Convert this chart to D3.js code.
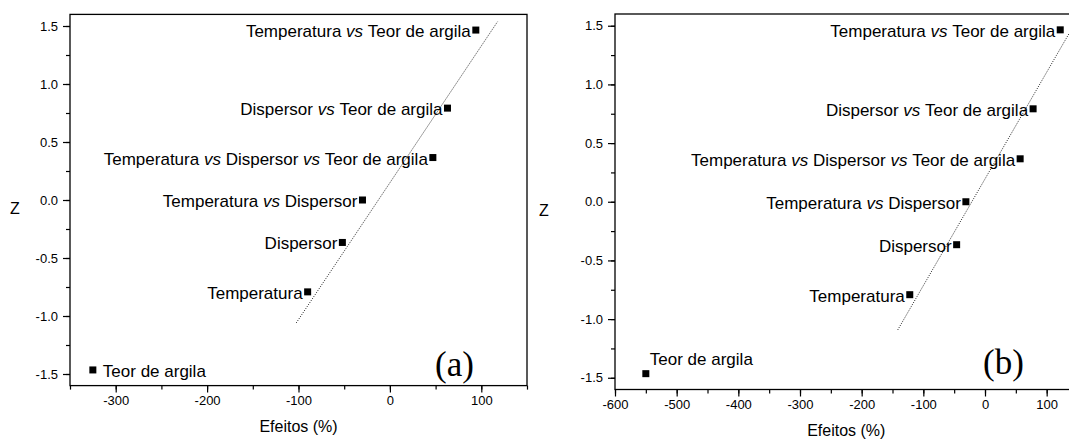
<!DOCTYPE html>
<html>
<head>
<meta charset="utf-8">
<script src="https://cdn.jsdelivr.net/npm/d3@7"></script>
<style>
  body { margin: 0; background: #fff; }
  svg { display: block; font-family: "Liberation Sans", Arial, sans-serif; }
</style>
</head>
<body>
<div id="chart"></div>
<script>
// effects, in order of their normal score
let efeitos = ["Teor de argila", "Temperatura", "Dispersor", "Temperatura vs Dispersor",
  "Temperatura vs Dispersor vs Teor de argila", "Dispersor vs Teor de argila", "Temperatura vs Teor de argila"];
let zScores = [-1.465, -0.792, -0.366, 0, 0.366, 0.792, 1.465];
let efeitosA = [-325, -90, -52, -30, 47, 63, 94];   // panel (a)
let efeitosB = [-550, -122, -46, -31, 57, 78, 122]; // panel (b)
// fitted normal line end points
let fitXA = [-102.5, 118], fitZA = [-1.06, 1.54];
let fitXB = [-141.6, 150], fitZB = [-1.093, 1.558];
let xTicksA = [-300, -200, -100, 0, 100];
let xTicksB = [-600, -500, -400, -300, -200, -100, 0, 100];
let zTicks = [-1.5, -1.0, -0.5, 0.0, 0.5, 1.0, 1.5];

const W = 1069, H = 441;
let svg = d3.select("#chart").append("svg").attr("width", W).attr("height", H);

function drawPanel(p) {
  let x = d3.scaleLinear().domain(p.xDomain).range([p.left, p.right]);
  let y = d3.scaleLinear().domain([-1.6, 1.6]).range([p.bottom, p.top]);
  let g = svg.append("g");

  // minor ticks
  let minorX = d3.range(p.xDomain[0], p.xDomain[1] + 1, 50);
  g.append("g").attr("transform", `translate(0,${p.bottom})`)
    .call(d3.axisBottom(x).tickValues(minorX).tickSize(4).tickFormat(""))
    .call(a => a.select(".domain").remove());
  g.append("g").attr("transform", `translate(${p.left},0)`)
    .call(d3.axisLeft(y).tickValues(d3.range(-1.5, 1.6, 0.25)).tickSize(4).tickFormat(""))
    .call(a => a.select(".domain").remove());

  let xa = g.append("g").attr("transform", `translate(0,${p.bottom})`)
    .call(d3.axisBottom(x).tickValues(p.xTicks).tickSize(7).tickPadding(3).tickFormat(d => String(d)));
  xa.select(".domain").remove();
  xa.selectAll("text").attr("font-size", 13).attr("font-family", "Liberation Sans, Arial, sans-serif");

  let ya = g.append("g").attr("transform", `translate(${p.left},0)`)
    .call(d3.axisLeft(y).tickValues(zTicks).tickSize(7).tickPadding(5).tickFormat(d => d.toFixed(1)));
  ya.select(".domain").remove();
  ya.selectAll("text").attr("font-size", 13).attr("font-family", "Liberation Sans, Arial, sans-serif");
  g.selectAll(".tick line").attr("stroke", "#000").attr("stroke-width", 1.2);

  // frame
  g.append("rect").attr("x", p.left).attr("y", p.top)
    .attr("width", p.right - p.left).attr("height", p.bottom - p.top)
    .attr("fill", "none").attr("stroke", "#000").attr("stroke-width", 1.3);

  // fit line
  g.append("line")
    .attr("x1", x(p.fitX[0])).attr("y1", y(p.fitZ[0]))
    .attr("x2", x(p.fitX[1])).attr("y2", y(p.fitZ[1]))
    .attr("stroke", "#222").attr("stroke-width", 1).attr("stroke-dasharray", "1,1.4");

  // points
  g.selectAll("rect.pt").data(p.vals).join("rect").attr("class", "pt")
    .attr("x", d => x(d) - 3.5).attr("y", (d, i) => y(zScores[i]) - 3.5)
    .attr("width", 7).attr("height", 7).attr("fill", "#000");

  // labels
  efeitos.forEach((name, i) => {
    let px = x(p.vals[i]), py = y(zScores[i]);
    let t = g.append("text").attr("font-size", 17).attr("fill", "#000");
    if (i === 0) {
      t.attr("x", px + p.firstDx).attr("y", py + p.firstDy);
    } else {
      t.attr("x", px - 5).attr("y", py + 7).attr("text-anchor", "end");
    }
    let parts = name.split(" vs ");
    parts.forEach((s, k) => {
      if (k > 0) t.append("tspan").attr("font-style", "italic").text(" vs ");
      t.append("tspan").text(s);
    });
  });

  // axis titles
  g.append("text").attr("x", p.zX).attr("y", (p.top + p.bottom) / 2 + 14)
    .attr("text-anchor", "middle").attr("font-size", 16).text("Z");
  g.append("text").attr("x", (p.left + p.right) / 2).attr("y", p.titleY)
    .attr("text-anchor", "middle").attr("font-size", 16).text("Efeitos (%)");

  g.append("text").attr("x", p.tagX).attr("y", p.tagY)
    .attr("font-family", "Liberation Serif, Times New Roman, serif")
    .attr("font-size", 35).text(p.tag);
}

drawPanel({
  xDomain: [-350, 150], left: 70, right: 527, top: 14.4, bottom: 385.6,
  xTicks: xTicksA, vals: efeitosA, fitX: fitXA, fitZ: fitZA,
  firstDx: 10, firstDy: 7, zX: 15, titleY: 432, tag: "(a)", tagX: 435, tagY: 376
});
drawPanel({
  xDomain: [-600, 150], left: 615, right: 1077.5, top: 14, bottom: 389.5,
  xTicks: xTicksB, vals: efeitosB, fitX: fitXB, fitZ: fitZB,
  firstDx: 4, firstDy: -9, zX: 544, titleY: 436, tag: "(b)", tagX: 983, tagY: 374
});
</script>
</body>
</html>
